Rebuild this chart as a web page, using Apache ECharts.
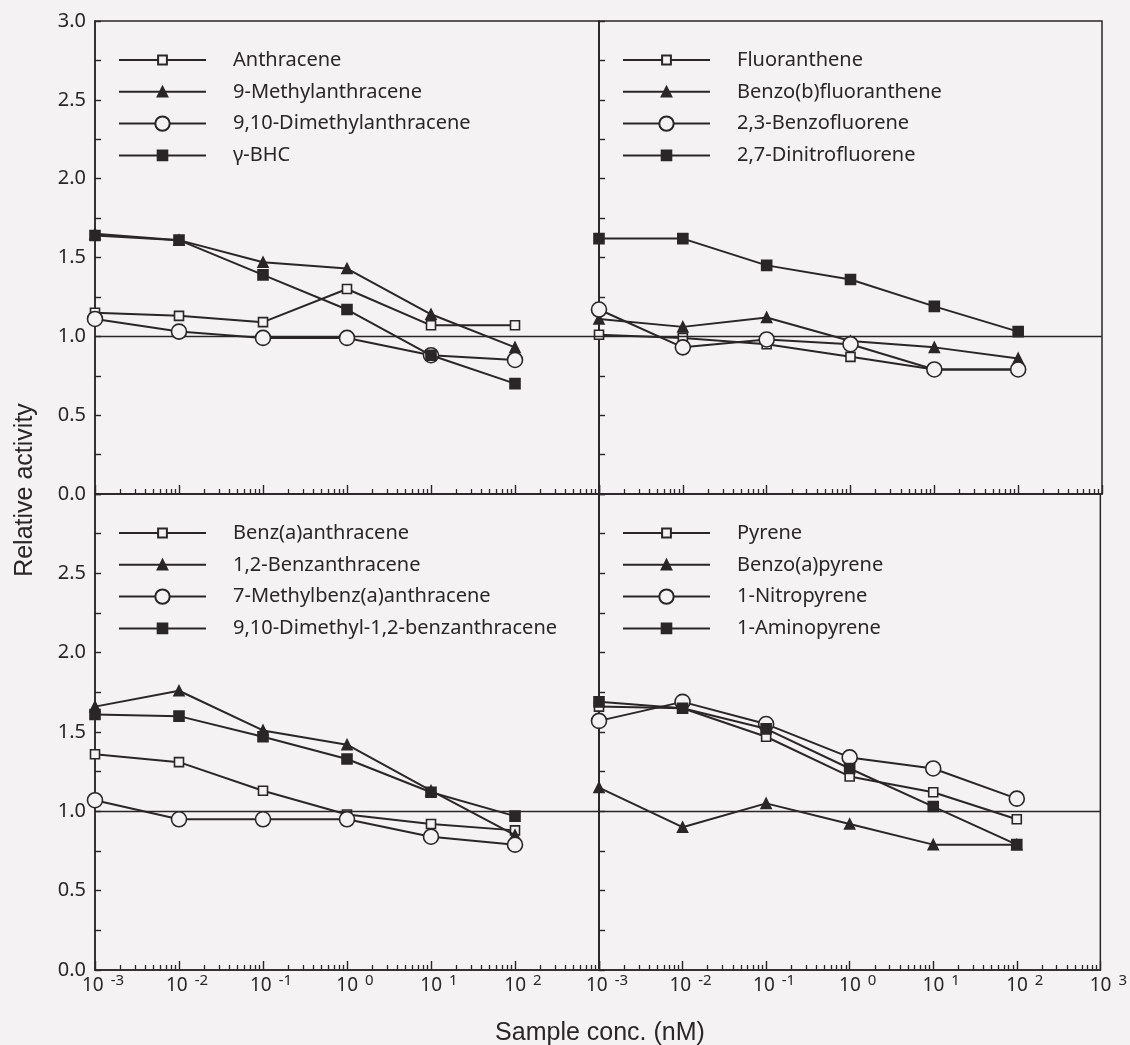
<!DOCTYPE html>
<html>
<head>
<meta charset="utf-8">
<script src="https://cdn.jsdelivr.net/npm/echarts@6/dist/echarts.min.js"></script>
<style>
html,body{margin:0;padding:0;background:#f4f2f3;}
#chart{width:1130px;height:1045px;}
</style>
</head>
<body>
<div id="chart"></div>
<script>
// ---------- DATA ----------
const conc = [0.001, 0.01, 0.1, 1, 10, 100];           // Sample conc. (nM)
const decadeExponents = [-3, -2, -1, 0, 1, 2, 3];         // x tick labels 10^n
const yTickLabels = [0, 0.5, 1, 1.5, 2, 2.5, 3];

// Panel A (top-left)
const namesA = ['Anthracene', '9-Methylanthracene', '9,10-Dimethylanthracene', 'γ-BHC'];
const anthracene        = [1.15, 1.13, 1.09, 1.30, 1.07, 1.07];
const methylAnthracene  = [1.65, 1.61, 1.47, 1.43, 1.14, 0.93];
const dimethylAnthr     = [1.11, 1.03, 0.99, 0.99, 0.88, 0.85];
const gammaBHC          = [1.64, 1.61, 1.39, 1.17, 0.88, 0.70];

// Panel B (top-right)
const namesB = ['Fluoranthene', 'Benzo(b)fluoranthene', '2,3-Benzofluorene', '2,7-Dinitrofluorene'];
const fluoranthene      = [1.01, 0.99, 0.95, 0.87, 0.79, 0.79];
const benzoBFluor       = [1.11, 1.06, 1.12, 0.97, 0.93, 0.86];
const benzofluorene23   = [1.17, 0.93, 0.98, 0.95, 0.79, 0.79];
const dinitrofluorene   = [1.62, 1.62, 1.45, 1.36, 1.19, 1.03];

// Panel C (bottom-left)
const namesC = ['Benz(a)anthracene', '1,2-Benzanthracene', '7-Methylbenz(a)anthracene', '9,10-Dimethyl-1,2-benzanthracene'];
const benzAAnthr        = [1.36, 1.31, 1.13, 0.98, 0.92, 0.88];
const benzanthr12       = [1.66, 1.76, 1.51, 1.42, 1.13, 0.85];
const methylBenzAAnthr  = [1.07, 0.95, 0.95, 0.95, 0.84, 0.79];
const dmba              = [1.61, 1.60, 1.47, 1.33, 1.12, 0.97];

// Panel D (bottom-right)
const namesD = ['Pyrene', 'Benzo(a)pyrene', '1-Nitropyrene', '1-Aminopyrene'];
const pyrene            = [1.66, 1.65, 1.47, 1.22, 1.12, 0.95];
const benzoAPyrene      = [1.15, 0.90, 1.05, 0.92, 0.79, 0.79];
const nitropyrene       = [1.57, 1.69, 1.55, 1.34, 1.27, 1.08];
const aminopyrene       = [1.69, 1.65, 1.52, 1.27, 1.03, 0.79];

// ---------- STYLE ----------
const INK = '#2a2628';
const BG = '#f4f2f3';
const TICK_FONT = 'Noto Sans';
const TITLE_FONT = 'Liberation Sans';
const LEGEND_LINE_H = 22;

// marker styles: open square, filled triangle, open circle, filled square
const markers = [
  {symbol: 'rect', size: 9, fill: BG, legendH: 11},
  {symbol: 'triangle', size: 10, fill: INK, legendH: 12},
  {symbol: 'circle', size: 15, fill: BG, legendH: 18},
  {symbol: 'rect', size: 10, fill: INK, legendH: 12}
];

const panels = [
  {names: namesA, values: [anthracene, methylAnthracene, dimethylAnthr, gammaBHC], left: 95,  top: 21,  width: 504, height: 473, yLabels: true,  xLabels: null, yLabelVals: yTickLabels},
  {names: namesB, values: [fluoranthene, benzoBFluor, benzofluorene23, dinitrofluorene], left: 599, top: 21,  width: 503, height: 473, yLabels: false, xLabels: null},
  {names: namesC, values: [benzAAnthr, benzanthr12, methylBenzAAnthr, dmba], left: 95,  top: 494, width: 504, height: 476, yLabels: true,  xLabels: decadeExponents.slice(0, 6), yLabelVals: yTickLabels.slice(0, 6)},
  {names: namesD, values: [pyrene, benzoAPyrene, nitropyrene, aminopyrene], left: 599, top: 494, width: 503, height: 476, yLabels: false, xLabels: decadeExponents}
];

const minorTicks = [];
decadeExponents.slice(0, 6).forEach(n => { for (let k = 2; k <= 9; k++) minorTicks.push(n + Math.log10(k)); });
const yTicks = [];
for (let v = 0; v <= 3.0001; v += 0.25) yTicks.push(Math.round(v * 100) / 100);

const grid = [], xAxis = [], yAxis = [], legend = [], series = [];

panels.forEach((p, i) => {
  grid.push({left: p.left, top: p.top, width: p.width, height: p.height, show: true,
             borderColor: INK, borderWidth: 1.5, backgroundColor: 'transparent', containLabel: false});
  // major x axis
  xAxis.push({
    gridIndex: i, type: 'value', min: -3, max: 3, position: 'bottom',
    axisLine: {show: true, onZero: false, lineStyle: {color: INK, width: 1.5}},
    axisTick: {show: true, inside: true, length: 9, customValues: decadeExponents, lineStyle: {color: INK, width: 1.4}},
    axisLabel: p.xLabels ? {
      show: true, customValues: p.xLabels, margin: 3, padding: [0, 0, 0, 16],
      formatter: v => '{b|10}{s|' + String(v) + '}',
      rich: {
        b: {fontSize: 19, fontFamily: TICK_FONT, color: INK, lineHeight: 22, verticalAlign: 'bottom', padding: [4, 0, 0, 0]},
        s: {fontSize: 15, fontFamily: TICK_FONT, color: INK, lineHeight: 16, verticalAlign: 'top', padding: [0, 0, 0, 7]}
      }
    } : {show: false},
    splitLine: {show: false}
  });
  // minor x axis (log-spaced minor ticks)
  xAxis.push({
    gridIndex: i, type: 'value', min: -3, max: 3, position: 'bottom',
    axisLine: {show: false, onZero: false},
    axisTick: {show: true, inside: true, length: 5, customValues: minorTicks, lineStyle: {color: INK, width: 1.3}},
    axisLabel: {show: false},
    splitLine: {show: false}
  });
  yAxis.push({
    gridIndex: i, type: 'value', min: 0, max: 3,
    axisLine: {show: true, onZero: false, lineStyle: {color: INK, width: 1.5}},
    axisTick: {show: true, inside: true, length: 6, customValues: yTicks, lineStyle: {color: INK, width: 1.4}},
    axisLabel: p.yLabels ? {show: true, customValues: p.yLabelVals, margin: 9,
      formatter: v => v.toFixed(1), fontSize: 20, fontFamily: TICK_FONT, color: INK} : {show: false},
    splitLine: {show: false}
  });
  p.names.forEach((name, k) => {
    const m = markers[k];
    const rowCenter = p.top + 39 + k * 31.8;
    legend.push({
      orient: 'vertical', left: p.left + 23, top: rowCenter - LEGEND_LINE_H / 2, padding: 0,
      itemWidth: 87, itemHeight: m.legendH, selectedMode: false,
      data: [name],
      textStyle: {fontSize: 20, fontFamily: TICK_FONT, color: INK, lineHeight: LEGEND_LINE_H, padding: [0, 0, 0, 22]}
    });
    const s = {
      name: name, type: 'line', xAxisIndex: 2 * i, yAxisIndex: i,
      data: conc.map((c, j) => [Math.log10(c), p.values[k][j]]),
      symbol: m.symbol, symbolSize: m.size, showAllSymbol: true,
      itemStyle: {color: m.fill, borderColor: INK, borderWidth: 1.6},
      lineStyle: {color: INK, width: 2},
      emphasis: {disabled: true},
      z: 3 + k
    };
    if (k === 0) {
      s.markLine = {silent: true, symbol: 'none', animation: false,
        label: {show: false}, lineStyle: {color: INK, width: 1.3, type: 'solid'},
        data: [{yAxis: 1}]};
    }
    series.push(s);
  });
});

const chart = echarts.init(document.getElementById('chart'), null, {renderer: 'canvas'});
chart.setOption({
  backgroundColor: BG,
  animation: false,
  grid, xAxis, yAxis, legend, series,
  graphic: [
    {type: 'text', x: 25, y: 490, rotation: Math.PI / 2,
     style: {text: 'Relative activity', fontSize: 25, fontFamily: TITLE_FONT, fill: INK, align: 'center', verticalAlign: 'middle'}},
    {type: 'text', x: 600, y: 1033,
     style: {text: 'Sample conc. (nM)', fontSize: 25, fontFamily: TITLE_FONT, fill: INK, align: 'center', verticalAlign: 'middle'}}
  ]
});
</script>
</body>
</html>
